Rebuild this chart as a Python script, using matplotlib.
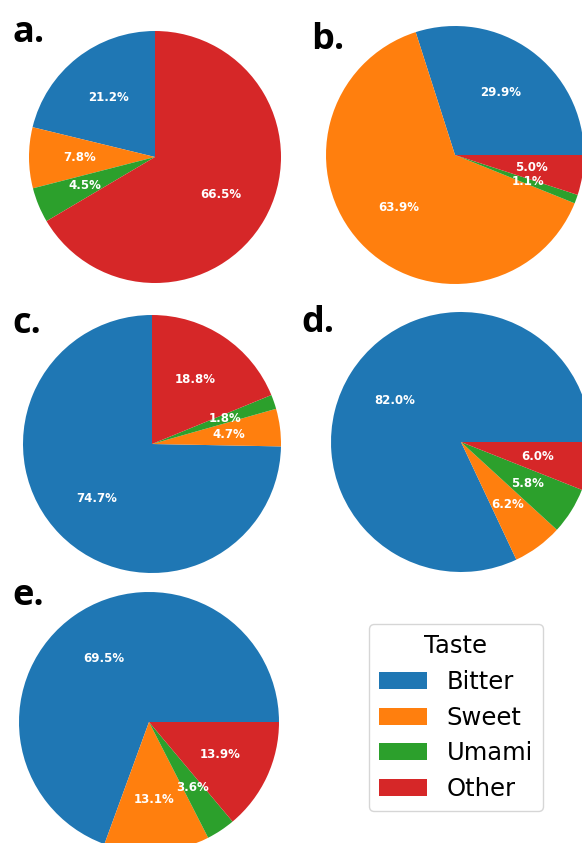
import matplotlib.pyplot as plt
from matplotlib.patches import Patch

W, H = 582, 843
DPI = 100

tastes = ['Bitter', 'Sweet', 'Umami', 'Other']
colors = ['#1f77b4', '#ff7f0e', '#2ca02c', '#d62728']

# share of each taste (%) per panel
panel_a = [21.2, 7.8, 4.5, 66.5]
panel_b = [29.9, 63.9, 1.1, 5.0]
panel_c = [74.7, 4.7, 1.8, 18.8]
panel_d = [82.0, 6.2, 5.8, 6.0]
panel_e = [69.5, 13.1, 3.6, 13.9]

# letter, values, start angle, pie centre x/y and radius in pixels, letter x/baseline
panels = [
    ('a.', panel_a, 90, 155, 157, 126, 12, 42),
    ('b.', panel_b, 0, 455, 155, 129, 311, 49),
    ('c.', panel_c, 90, 152, 444, 129, 12, 333),
    ('d.', panel_d, 0, 461, 442, 130, 301, 332),
    ('e.', panel_e, 0, 149, 722, 130, 12, 605),
]


def pct_labels(vals):
    # print the stored value rather than the renormalised share
    it = iter(vals)
    return lambda p: f'{next(it):.1f}%'


fig = plt.figure(figsize=(W / DPI, H / DPI), dpi=DPI)

for letter, vals, start, cx, cy, r, lx, ly in panels:
    ax = fig.add_axes([(cx - r) / W, 1 - (cy + r) / H, 2 * r / W, 2 * r / H])
    ax.pie(vals, colors=colors, startangle=start, autopct=pct_labels(vals),
           pctdistance=0.6,
           textprops=dict(color='white', fontweight='bold', fontsize=8.5))
    ax.set_xlim(-1, 1)
    ax.set_ylim(-1, 1)
    ax.set_aspect('equal')
    ax.axis('off')
    fig.text(lx / W, 1 - ly / H, letter, fontsize=26, fontweight='bold',
             family='Open Sans', ha='left', va='baseline')

handles = [Patch(facecolor=c, label=t) for c, t in zip(colors, tastes)]
fig.legend(handles=handles, title='Taste', loc='upper left',
           bbox_to_anchor=(369 / W, 1 - 624 / H), bbox_transform=fig.transFigure,
           borderaxespad=0, fontsize=17.5, title_fontsize=17.5,
           labelspacing=0.49)

fig.savefig('out.png', dpi=DPI)
